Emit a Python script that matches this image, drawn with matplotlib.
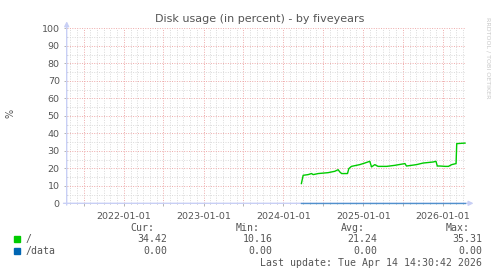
'''Munin style disk usage chart, five year view.'''
import datetime as dt

import matplotlib
matplotlib.use('Agg')
import matplotlib.dates as mdates
from matplotlib import pyplot as plt
from matplotlib.ticker import MultipleLocator, FuncFormatter

# Data
root_dates = ['2024-03-24', '2024-04-01', '2024-04-24', '2024-05-09', '2024-05-17',
              '2024-06-09', '2024-07-24', '2024-08-24', '2024-09-08', '2024-09-16',
              '2024-09-24', '2024-10-21', '2024-10-27', '2024-11-08', '2024-12-01',
              '2024-12-16', '2025-01-08', '2025-01-31', '2025-02-08', '2025-02-23',
              '2025-03-10', '2025-04-18', '2025-05-26', '2025-07-11', '2025-07-18',
              '2025-08-10', '2025-09-02', '2025-10-02', '2025-11-17', '2025-11-30',
              '2025-12-06', '2025-12-19', '2026-01-11', '2026-01-26', '2026-02-10',
              '2026-03-02', '2026-03-05', '2026-04-12']
root_values = [11.3, 16.0, 16.4, 17.0, 16.4,
               17.0, 17.5, 18.3, 19.2, 17.9,
               17.0, 17.0, 19.8, 21.1, 21.7,
               22.1, 23.0, 24.0, 20.8, 22.1,
               21.1, 21.1, 21.7, 22.7, 21.3,
               21.7, 22.1, 23.0, 23.6, 24.0,
               21.3, 21.3, 21.1, 21.1, 22.1,
               22.7, 34.1, 34.4]
data_dates = ['2024-03-24', '2026-04-12']
data_values = [0.0, 0.0]

legend_names = ['/', '/data']
legend_colors = ['#00cc00', '#0066b3']
legend_cur = ['34.42', '0.00']
legend_min = ['10.16', '0.00']
legend_avg = ['21.24', '0.00']
legend_max = ['35.31', '0.00']

x_start = dt.datetime(2021, 4, 14, 14, 30)
x_end = dt.datetime(2026, 4, 14, 14, 30)

TEXT = '#555555'
W, H = 497, 276


def fx(px):
    return px / W


def fy(py):
    return 1 - py / H


fig = plt.figure(figsize=(W / 100, H / 100), dpi=100)
fig.patch.set_facecolor('white')
ax = fig.add_axes([fx(66.7), fy(203.3), fx(465.6) - fx(66.7), fy(28.3) - fy(203.3)])

to_dt = lambda s: [dt.datetime.strptime(d, '%Y-%m-%d') for d in s]
ax.plot(to_dt(data_dates), data_values, color=legend_colors[1], lw=1.0, alpha=0.6,
        zorder=3, clip_on=False)
ax.plot(to_dt(root_dates), root_values, color=legend_colors[0], lw=1.0, zorder=4)

ax.set_xlim(x_start, x_end)
ax.set_ylim(0, 100)

# Grid: red major, grey minor, dotted
ax.xaxis.set_major_locator(mdates.MonthLocator(bymonth=[1, 7]))
ax.xaxis.set_minor_locator(mdates.MonthLocator())
ax.xaxis.set_major_formatter(FuncFormatter(
    lambda v, p: mdates.num2date(v).strftime('%Y-%m-%d') if mdates.num2date(v).month == 1 else ''))
ax.yaxis.set_major_locator(MultipleLocator(10))
ax.yaxis.set_minor_locator(MultipleLocator(5))
ax.grid(which='major', color='#eeaaaa', lw=0.7, ls=(0, (1, 1.5)))
ax.grid(which='minor', color='#dadada', lw=0.7, ls=(0, (1, 1.5)))
ax.set_axisbelow(True)

for s in ax.spines.values():
    s.set_visible(False)
ax.tick_params(which='both', length=2, width=0.6, color='#aaaaaa', labelcolor=TEXT,
               labelsize=6.8)
ax.tick_params(axis='x', pad=4)
ax.tick_params(axis='y', pad=3)
ax.tick_params(which='minor', length=1)

# Axes with arrows
arrow = dict(arrowstyle='-|>', color='#c8cff5', lw=1.0, mutation_scale=7, shrinkA=0, shrinkB=0)
ax.annotate('', xy=(1.02, 0), xytext=(-0.008, 0), xycoords='axes fraction',
            arrowprops=arrow, zorder=2)
ax.annotate('', xy=(0, 1.04), xytext=(0, -0.01), xycoords='axes fraction',
            arrowprops=arrow, zorder=2)

fig.text(fx(260), fy(19), 'Disk usage (in percent) - by fiveyears', ha='center',
         va='center', fontsize=8, color=TEXT)
fig.text(fx(10), fy(113), '%', rotation=90, ha='center', va='center', fontsize=7,
         color=TEXT)
fig.text(fx(488), fy(58), 'RRDTOOL / TOBI OETIKER', rotation=-90, ha='center',
         va='center', fontsize=4.6, color='#c8c8c8')

# Legend table
mono = dict(family='DejaVu Sans Mono', fontsize=7.1, color=TEXT, va='center')
headers = ['Cur:', 'Min:', 'Avg:', 'Max:']
header_x = [154, 260, 365, 470]
value_x = [167, 272.7, 377.7, 482.7]
for h, x in zip(headers, header_x):
    fig.text(fx(x), fy(227.7), h, ha='right', **mono)
row_y = [239.3, 251]
for i, name in enumerate(legend_names):
    y = row_y[i]
    fig.patches.append(plt.Rectangle((fx(14), fy(y + 3)), fx(6), 6 / H,
                                     color=legend_colors[i], transform=fig.transFigure))
    fig.text(fx(26), fy(y), name, ha='left', **mono)
    cols = [legend_cur[i], legend_min[i], legend_avg[i], legend_max[i]]
    for v, x in zip(cols, value_x):
        fig.text(fx(x), fy(y), v, ha='right', **mono)
fig.text(fx(482.3), fy(263.3), 'Last update: Tue Apr 14 14:30:42 2026', ha='right', **mono)

fig.savefig('out.png', dpi=100, facecolor='white')
